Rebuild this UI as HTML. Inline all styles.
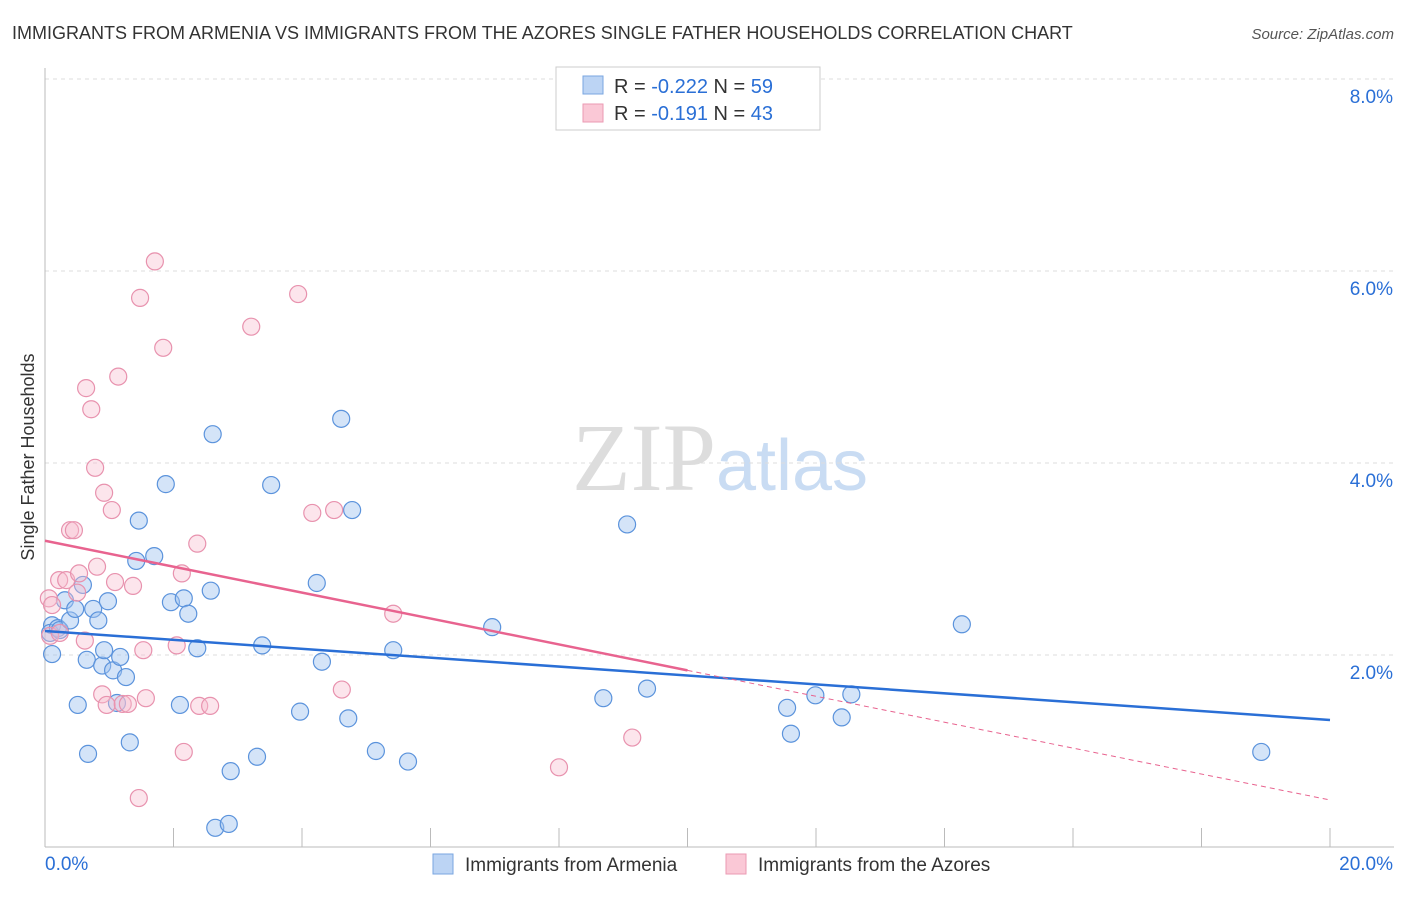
<!DOCTYPE html>
<html><head><meta charset="utf-8"><style>
body{margin:0;background:#fff;font-family:"Liberation Sans",sans-serif}
</style></head><body>
<svg id="chart" width="1406" height="892" xmlns="http://www.w3.org/2000/svg" font-family="Liberation Sans, sans-serif">
<text x="12" y="39" font-size="18" fill="#333">IMMIGRANTS FROM ARMENIA VS IMMIGRANTS FROM THE AZORES SINGLE FATHER HOUSEHOLDS CORRELATION CHART</text>
<text x="1394" y="39" font-size="15" fill="#555" text-anchor="end" font-style="italic">Source: ZipAtlas.com</text>
<text x="720" y="490" font-size="96" text-anchor="middle"><tspan fill="#ddd" font-family="Liberation Serif, serif">ZIP</tspan><tspan fill="#c9dcf3" font-size="72">atlas</tspan></text>
<g id="grid"></g><g id="axes"></g><g id="pts"></g><g id="lines"></g>
<text transform="translate(34,457) rotate(-90)" font-size="18" fill="#333" text-anchor="middle">Single Father Households</text>
<g>
<rect x="556" y="67" width="264" height="63" fill="#fff" stroke="#ccc"/>
<rect x="583" y="76" width="20" height="18" fill="#bcd4f4" stroke="#7aa6e0"/>
<rect x="583" y="104" width="20" height="18" fill="#fac8d6" stroke="#eb9ab3"/>
<text x="614" y="93" font-size="20" fill="#333">R = <tspan fill="#2a6fd6">-0.222</tspan>   N = <tspan fill="#2a6fd6">59</tspan></text>
<text x="614" y="120" font-size="20" fill="#333">R =  <tspan fill="#2a6fd6">-0.191</tspan>   N = <tspan fill="#2a6fd6">43</tspan></text>
</g>
<g>
<rect x="433" y="854" width="20" height="20" fill="#bcd4f4" stroke="#7aa6e0"/>
<text x="465" y="871" font-size="19" fill="#333">Immigrants from Armenia</text>
<rect x="726" y="854" width="20" height="20" fill="#fac8d6" stroke="#eb9ab3"/>
<text x="758" y="871" font-size="19" fill="#333">Immigrants from the Azores</text>
</g>
</svg>
<script>
const yTicks=[2,4,6,8];
const xTickLabels=["0.0%","20.0%"];
const armeniaX=[0.11,0.08,0.11,0.2,0.23,0.31,0.39,0.47,0.51,0.59,0.65,0.67,0.75,0.83,0.89,0.98,1.06,1.12,1.17,1.26,1.32,0.92,1.46,1.42,1.7,1.88,1.96,2.1,2.16,2.23,2.37,2.58,2.61,2.65,2.86,2.89,3.3,3.38,3.52,3.97,4.23,4.31,4.61,4.72,4.78,5.15,5.42,5.65,6.96,8.69,9.06,9.37,11.55,11.61,11.99,12.4,12.55,14.27,18.93];
const armeniaY=[2.31,2.23,2.01,2.28,2.26,2.57,2.36,2.48,1.48,2.73,1.95,0.97,2.48,2.36,1.89,2.56,1.84,1.5,1.98,1.77,1.09,2.05,3.4,2.98,3.03,3.78,2.55,1.48,2.59,2.43,2.07,2.67,4.3,0.2,0.24,0.79,0.94,2.1,3.77,1.41,2.75,1.93,4.46,1.34,3.51,1.0,2.05,0.89,2.29,1.55,3.36,1.65,1.45,1.18,1.58,1.35,1.59,2.32,0.99];
const azoresX=[0.06,0.11,0.22,0.33,0.39,0.45,0.5,0.53,0.62,0.64,0.72,0.78,0.81,0.89,0.92,0.96,1.04,1.09,1.14,1.21,1.29,1.37,1.46,1.48,1.57,1.53,1.71,1.84,2.05,2.13,2.16,2.37,2.4,2.57,3.21,3.94,4.16,4.5,4.62,5.42,9.14,8.0,0.08,0.23];
const azoresY=[2.59,2.52,2.78,2.78,3.3,3.3,2.65,2.85,2.15,4.78,4.56,3.95,2.92,1.59,3.69,1.48,3.51,2.76,4.9,1.49,1.49,2.72,0.51,5.72,1.55,2.05,6.1,5.2,2.1,2.85,0.99,3.16,1.47,1.47,5.42,5.76,3.48,3.51,1.64,2.43,1.14,0.83,2.2,2.23];
const blueTrend=[2.25,1.323];
const pinkTrend=[3.19,0.49];
const pinkSolidEnd=10;
const NS="http://www.w3.org/2000/svg";
const X0=45,X1=1330,Y0=847,PXY=96;
const sx=v=>X0+(X1-X0)*v/20, sy=v=>Y0-PXY*v;
function mk(t,a,p){const e=document.createElementNS(NS,t);for(const k in a)e.setAttribute(k,a[k]);p.appendChild(e);return e;}
const grid=document.getElementById('grid'),axes=document.getElementById('axes'),pts=document.getElementById('pts'),lines=document.getElementById('lines');
yTicks.forEach(t=>{
 const l=mk('line',{x1:X0,x2:1394,y1:sy(t),y2:sy(t),stroke:'#ddd','stroke-dasharray':'4,4'},grid);
 
 
 const tx=mk('text',{x:1393,y:sy(t)+24,'font-size':19,fill:'#2a6fd6','text-anchor':'end'},axes);
 tx.textContent=t.toFixed(1)+'%';
 
 
});
mk('line',{x1:X0,x2:X0,y1:68,y2:Y0,stroke:'#bbb'},axes);
mk('line',{x1:X0,x2:1394,y1:Y0,y2:Y0,stroke:'#bbb'},axes);
for(let i=0;i<=10;i++){mk('line',{x1:sx(i*2),x2:sx(i*2),y1:828,y2:Y0,stroke:'#bbb'},axes);}
xTickLabels.forEach((s,i)=>{
 const tx=mk('text',{x:i?1393:45,y:870,'font-size':19,fill:'#2a6fd6','text-anchor':i?'end':'start'},axes);
 tx.textContent=s;
 
 
});
armeniaX.forEach((x,i)=>{
 const c=mk('circle',{cx:sx(x),cy:sy(armeniaY[i]),r:8.5,fill:'rgba(160,196,240,0.45)',stroke:'#5b93dc','stroke-width':1.2},pts);
 
 
});
azoresX.forEach((x,i)=>{
 const c=mk('circle',{cx:sx(x),cy:sy(azoresY[i]),r:8.5,fill:'rgba(248,190,208,0.4)',stroke:'#e892ae','stroke-width':1.2},pts);
 
 
});
const bl=mk('line',{x1:sx(0),y1:sy(blueTrend[0]),x2:sx(20),y2:sy(blueTrend[1]),stroke:'#2a6fd6','stroke-width':2.5},lines);


const pm=pinkTrend[0]+(pinkTrend[1]-pinkTrend[0])*pinkSolidEnd/20;
const pl=mk('line',{x1:sx(0),y1:sy(pinkTrend[0]),x2:sx(pinkSolidEnd),y2:sy(pm),stroke:'#e8638f','stroke-width':2.5},lines);


const pd=mk('line',{x1:sx(pinkSolidEnd),y1:sy(pm),x2:sx(20),y2:sy(pinkTrend[1]),stroke:'#e8638f','stroke-width':1,'stroke-dasharray':'5,4'},lines);


</script>
</body></html>
